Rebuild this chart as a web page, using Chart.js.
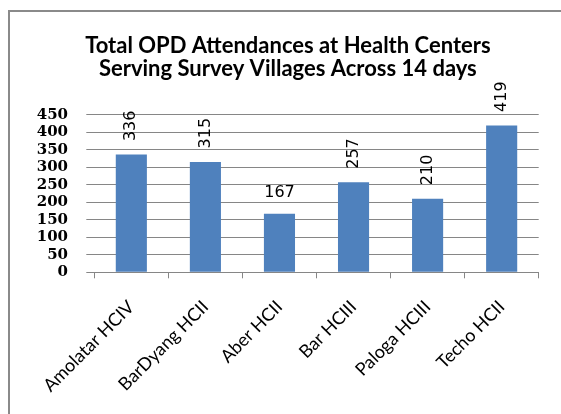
<!DOCTYPE html>
<html>
<head>
<meta charset="utf-8">
<script src="https://cdn.jsdelivr.net/npm/chart.js@4/dist/chart.umd.min.js"></script>
<style>
  html, body { margin: 0; padding: 0; background: #fff; overflow: hidden; }
  .wrap { position: relative; width: 561px; height: 414px; overflow: hidden; }
  .frame { position: absolute; left: 8px; top: 10px; width: 620px; height: 480px; border: 2px solid #8a8a8a; }
  canvas { position: absolute; left: 0; top: 0; }
</style>
</head>
<body>
<div class="wrap">
  <div class="frame"></div>
  <canvas id="opd" width="561" height="414"></canvas>
</div>
<script>
// health centres and OPD attendances over 14 days
const centers = ['Amolatar HCIV', 'BarDyang HCII', 'Aber HCII', 'Bar HCIII', 'Paloga HCIII', 'Techo HCII'];
const attendances = [336, 315, 167, 257, 210, 419];
const yTicks = [0, 50, 100, 150, 200, 250, 300, 350, 400, 450];

const gridGrey = '#868686';

// value labels: rotated except the one Excel left flat
const barLabels = {
    id: 'barLabels',
    afterDatasetsDraw(chart) {
        const ctx = chart.ctx;
        const bars = chart.getDatasetMeta(0).data;
        ctx.save();
        ctx.font = '16px "DejaVu Sans"';
        ctx.fillStyle = '#000';
        bars.forEach((bar, i) => {
            const txt = String(attendances[i]);
            if (i === 2) {
                ctx.textAlign = 'center';
                ctx.textBaseline = 'alphabetic';
                ctx.fillText(txt, bar.x, bar.y - 17);
            } else {
                ctx.save();
                ctx.translate(bar.x, bar.y - 13.5);
                ctx.rotate(-Math.PI / 2);
                ctx.textAlign = 'left';
                ctx.textBaseline = 'middle';
                ctx.fillText(txt, 0, 0);
                ctx.restore();
            }
        });
        ctx.restore();
    }
};

new Chart(document.getElementById('opd'), {
    type: 'bar',
    data: {
        labels: centers,
        datasets: [{
            data: attendances,
            backgroundColor: '#4F81BD',
            borderWidth: 0,
            categoryPercentage: 1,
            barPercentage: 0.42
        }]
    },
    options: {
        responsive: false,
        animation: false,
        layout: { padding: { left: 37, right: 22.3, top: 0, bottom: 0 } },
        plugins: {
            legend: { display: false },
            tooltip: { enabled: false },
            title: {
                display: true,
                text: ['Total OPD Attendances at Health Centers', 'Serving Survey Villages Across 14 days'],
                color: '#000',
                font: { family: 'Lato', weight: 'bold', size: 22, lineHeight: 1.014 },
                padding: { top: 35, bottom: 35 }
            }
        },
        scales: {
            y: {
                min: 0,
                max: 450,
                afterFit(scale) { scale.width = 57.3; },
                afterBuildTicks(scale) { scale.ticks = yTicks.map(v => ({ value: v })); },
                border: { display: false },
                grid: { color: gridGrey, tickColor: gridGrey, tickLength: 8, lineWidth: 1 },
                ticks: {
                    color: '#000',
                    padding: 18.3,
                    autoSkip: false,
                    font: { family: 'DejaVu Serif', weight: 'bold', size: 15, lineHeight: 1 }
                }
            },
            x: {
                afterFit(scale) { scale.height = 141.7; },
                border: { display: true, color: gridGrey },
                grid: { drawOnChartArea: false, color: gridGrey, tickColor: gridGrey, tickLength: 6, offset: true },
                ticks: {
                    color: '#000',
                    minRotation: 45,
                    maxRotation: 45,
                    padding: 18,
                    autoSkip: false,
                    font: { family: 'Lato', size: 18 }
                }
            }
        }
    },
    plugins: [barLabels]
});
</script>
</body>
</html>
